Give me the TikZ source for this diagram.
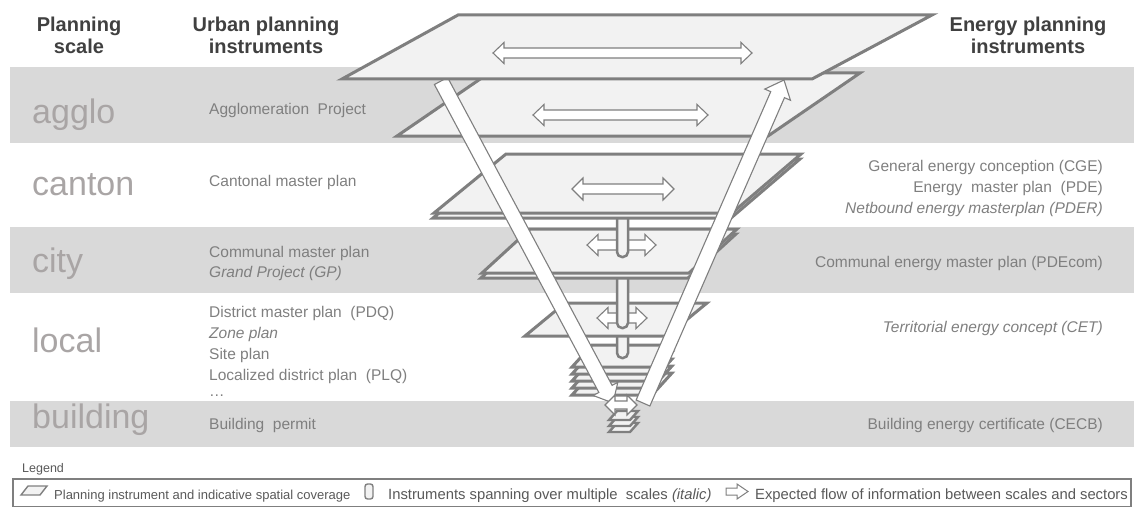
\documentclass[tikz,border=0pt]{standalone}
\usepackage{fontspec}
\setmainfont{Liberation Sans}
\usetikzlibrary{calc}

\definecolor{bandgray}{HTML}{D9D9D9}
\definecolor{platefill}{HTML}{F2F2F2}
\definecolor{edgegray}{HTML}{7F7F7F}
\definecolor{textgray}{HTML}{7F7F7F}
\definecolor{scalegray}{HTML}{A9A5A5}
\definecolor{headgray}{HTML}{404040}
\definecolor{legendgray}{HTML}{595959}

\tikzset{
  plate/.style={fill=platefill, draw=edgegray, line width=3pt, line join=miter},
  smallplate/.style={plate, line width=2.4pt},
  flow/.style={fill=white, draw=edgegray, line width=1.1pt, line join=miter},
  bar/.style={fill=platefill, draw=edgegray, line width=2.5pt, rounded corners=5pt},
  scalelabel/.style={anchor=base west, inner sep=0pt, text=scalegray, font=\fontsize{34}{40}\selectfont},
  head/.style={anchor=base, inner sep=0pt, text=headgray, font=\bfseries\fontsize{20}{24}\selectfont},
  urban/.style={anchor=base west, inner sep=0pt, text=textgray, font=\fontsize{15.5}{18}\selectfont},
  energy/.style={anchor=base east, inner sep=0pt, text=textgray, font=\fontsize{15.5}{18}\selectfont},
  legendtext/.style={anchor=base west, inner sep=0pt, text=legendgray},
  legendicon/.style={fill=platefill, draw=edgegray, line width=1.4pt},
}

% horizontal double-headed block arrow: centre x, centre y, half length,
% shaft half height, head half height, head length
\newcommand{\hflow}[6]{%
  \draw[flow] ({#1-#3},#2) -- ({#1-#3+#6},{#2-#5}) -- ({#1-#3+#6},{#2-#4})
    -- ({#1+#3-#6},{#2-#4}) -- ({#1+#3-#6},{#2-#5}) -- ({#1+#3},#2)
    -- ({#1+#3-#6},{#2+#5}) -- ({#1+#3-#6},{#2+#4}) -- ({#1-#3+#6},{#2+#4})
    -- ({#1-#3+#6},{#2+#5}) -- cycle;}

% slanted single block arrow from a tail coordinate to a tip coordinate
\newcommand{\fatflow}[2]{%
  \coordinate (#2-base) at ($(#2)!16pt!(#1)$);
  \draw[flow] ($(#1)!7.5pt!90:(#2)$)
    -- ($(#2-base)!7.5pt!90:(#2)$)
    -- ($(#2-base)!14pt!90:(#2)$)
    -- (#2)
    -- ($(#2-base)!14pt!-90:(#2)$)
    -- ($(#2-base)!7.5pt!-90:(#2)$)
    -- ($(#1)!7.5pt!-90:(#2)$) -- cycle;}

\begin{document}
\begin{tikzpicture}[x=1pt, y=-1pt]
\useasboundingbox (0,0) rectangle (1134,508);

% scale bands
\fill[bandgray] (10,67) rectangle (1134,143);
\fill[bandgray] (10,227) rectangle (1134,293);
\fill[bandgray] (10,401) rectangle (1134,447);

% column headings
\node[head] (h1a) at (79,32) {Planning};
\node[head] (h1b) at (79,54) {scale};
\node[head] (h2a) at (266,32) {Urban planning};
\node[head] (h2b) at (266,54) {instruments};
\node[head] (h3a) at (1028,32) {Energy planning};
\node[head] (h3b) at (1028,54) {instruments};

% planning scales
\node[scalelabel] (sagglo) at (32,124) {agglo};
\node[scalelabel] (scanton) at (32,195) {canton};
\node[scalelabel] (scity) at (32,272) {city};
\node[scalelabel] (slocal) at (32,352) {local};
\node[scalelabel] (sbuilding) at (32,428) {building};

% urban planning instruments
\node[urban] (u1) at (209,115) {Agglomeration\ \ Project};
\node[urban] (u2) at (209,186) {Cantonal master plan};
\node[urban] (u3) at (209,257.5) {Communal master plan};
\node[urban] (u4) at (209,277) {\itshape Grand Project (GP)};
\node[urban] (u5) at (209,317) {District master plan\ \ (PDQ)};
\node[urban] (u6) at (209,338.5) {\itshape Zone plan};
\node[urban] (u7) at (209,359.5) {Site plan};
\node[urban] (u8) at (209,380.5) {Localized district plan\ \ (PLQ)};
\node[urban] (u9) at (209,396) {\ldots};
\node[urban] (u10) at (209,429.5) {Building\ \ permit};

% energy planning instruments
\node[energy] (e1) at (1103,171) {General energy conception (CGE)};
\node[energy] (e2) at (1103,192) {Energy\ \ master plan\ \ (PDE)};
\node[energy] (e3) at (1103,213) {\itshape Netbound energy masterplan (PDER)};
\node[energy] (e4) at (1103,267.5) {Communal energy master plan (PDEcom)};
\node[energy] (e5) at (1103,332) {\itshape Territorial energy concept (CET)};
\node[energy] (e6) at (1103,429.5) {Building energy certificate (CECB)};

% building scale: stack of small plates
\foreach \i in {2,1,0} {
  \draw[smallplate] (617,{411+6*\i}) -- (638,{411+6*\i}) -- (630,{420+6*\i}) -- (609,{420+6*\i}) -- cycle;
}

% local scale: stack of plates
\foreach \i in {4,3,2,1,0} {
  \draw[plate] (592,{345+7*\i}) -- (672,{345+7*\i}) -- (652,{367+7*\i}) -- (572,{367+7*\i}) -- cycle;
}
\draw[bar] (617,318) rectangle (628,358);

% local plate
\draw[plate] (565,303) -- (707,303) -- (667,336) -- (525,336) -- cycle;
\hflow{622}{318}{25}{5}{10.5}{11}
\draw[bar] (617,262) rectangle (628,328);

% city plates
\draw[plate] (529,234) -- (736,234) -- (688,278) -- (481,278) -- cycle;
\draw[plate] (530,229) -- (737,229) -- (689,273) -- (482,273) -- cycle;
\hflow{621.5}{245}{34.5}{5}{10.5}{11}
\draw[bar] (617,200) rectangle (628,257);

% canton plates
\draw[plate] (505,159) -- (800,159) -- (731,218) -- (433,218) -- cycle;
\draw[plate] (506,154) -- (801,154) -- (732,213) -- (434,213) -- cycle;
\hflow{623}{189}{51}{5}{11}{11}

% agglomeration plate
\draw[plate] (489,73) -- (860,73) -- (768,136) -- (397,136) -- cycle;
\hflow{620.5}{115}{87.5}{5}{10.5}{11}

% flows of information across the scales
\coordinate (downtail) at (441,81);
\coordinate (downtip) at (613,403);
\coordinate (uptail) at (643,403);
\coordinate (uptip) at (784,80);
\fatflow{downtail}{downtip}
\fatflow{uptail}{uptip}

% top plate
\draw[plate] (458,15) -- (932,15) -- (812,79) -- (342,79) -- cycle;
\hflow{622.5}{53}{129.5}{5}{10.5}{11}

% building scale exchange
\hflow{621}{405}{16}{4}{10}{10}

% legend
\node[legendtext, font=\fontsize{12.5}{15}\selectfont] (legtitle) at (22,472) {Legend};
\draw[edgegray, line width=1.2pt] (13,479) rectangle (1131,506.5);
\draw[legendicon] (28,486) -- (47,486) -- (40,495) -- (21,495) -- cycle;
\node[legendtext, font=\fontsize{13}{16}\selectfont] (leg1) at (54,499) {Planning instrument and indicative spatial coverage};
\draw[legendicon, rounded corners=2.5pt] (365,484) rectangle (373,499);
\node[legendtext, font=\fontsize{14.8}{17}\selectfont] (leg2) at (388,499) {Instruments spanning over multiple\ \ scales \textit{(italic)}};
\draw[flow, line width=1pt] (726,488) -- (737,488) -- (737,484) -- (748,491.5) -- (737,499) -- (737,495) -- (726,495) -- cycle;
\node[legendtext, font=\fontsize{14.8}{17}\selectfont] (leg3) at (755,499) {Expected flow of information between scales and sectors};
\end{tikzpicture}
\end{document}
